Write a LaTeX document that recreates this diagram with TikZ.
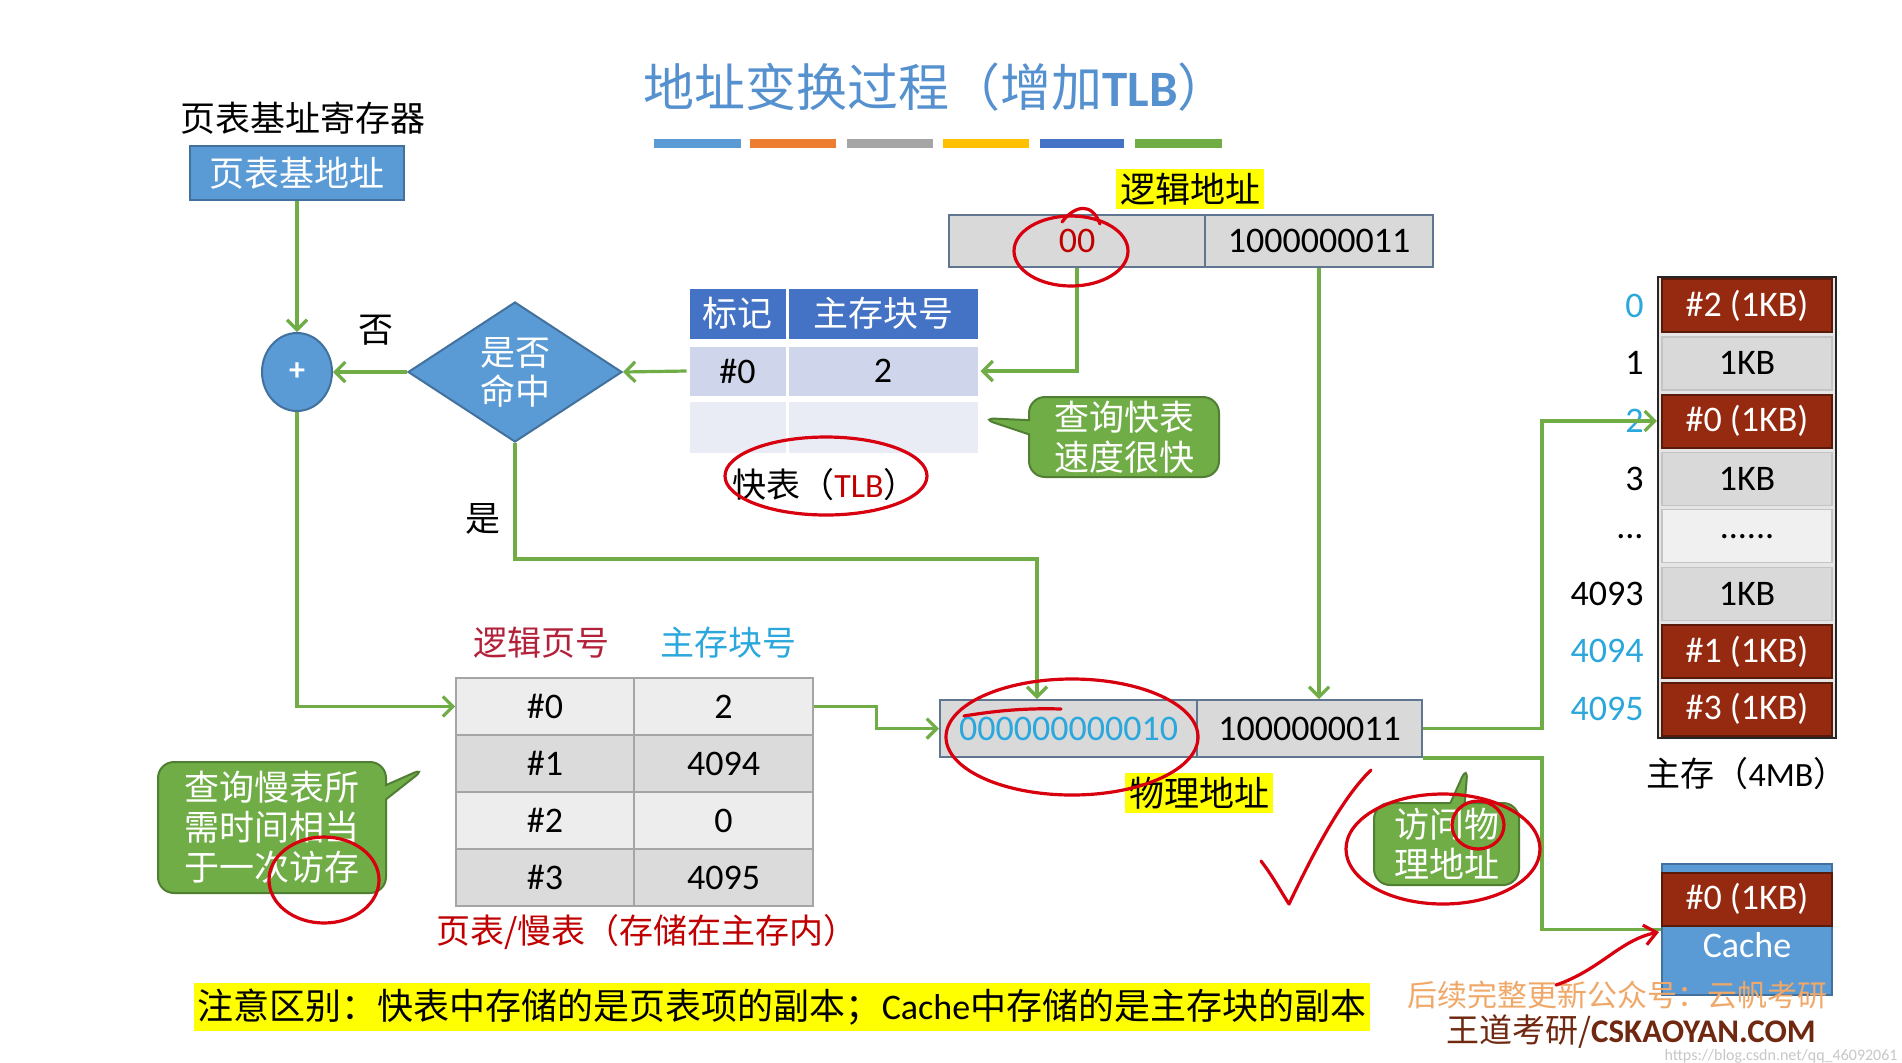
\documentclass[tikz,border=0pt]{standalone}
\usepackage{fontspec}
\setmainfont{Noto Sans CJK SC}
\newfontfamily\lat{Carlito}
\usetikzlibrary{arrows.meta,shapes.geometric,shapes.callouts,calc}
\newcommand\myfs[2]{\fontsize{#1}{#2}\selectfont}
\definecolor{titleblue}{HTML}{5590CF}
\definecolor{bfill}{HTML}{5B9BD5}
\definecolor{bdraw}{HTML}{41719C}
\definecolor{gline}{HTML}{70AD47}
\definecolor{gdraw}{HTML}{507E32}
\definecolor{hdr}{HTML}{4472C4}
\definecolor{tlbA}{HTML}{CFD5EA}
\definecolor{tlbB}{HTML}{E9EBF5}
\definecolor{ptA}{HTML}{EDEDED}
\definecolor{ptB}{HTML}{DBDBDB}
\definecolor{ptline}{HTML}{A5A5A5}
\definecolor{addrfill}{HTML}{D9D9D9}
\definecolor{addrdraw}{HTML}{5F7590}
\definecolor{graydraw}{HTML}{C4C4C4}
\definecolor{blk}{HTML}{952A10}
\definecolor{blkd}{HTML}{5A1A0A}
\definecolor{cyantxt}{HTML}{2AA7DC}
\definecolor{redtxt}{HTML}{C00000}
\definecolor{crimson}{HTML}{B3203A}
\definecolor{inkred}{HTML}{D8000F}
\definecolor{hl}{HTML}{FFFF00}
\definecolor{wmA}{HTML}{F0A868}
\definecolor{wmB}{HTML}{702810}
\definecolor{barA}{HTML}{5B9BD5}
\definecolor{barB}{HTML}{ED7D31}
\definecolor{barC}{HTML}{A5A5A5}
\definecolor{barD}{HTML}{FFC000}
\definecolor{barE}{HTML}{4472C4}
\definecolor{barF}{HTML}{70AD47}
\tikzset{
  gl/.style={draw=gline, line width=1.6pt},
  arr/.style={gl, -{Straight Barb[length=5pt,width=10pt]}},
  lbl/.style={inner sep=0pt, font=\myfs{17.5}{20}},
  bluebox/.style={rectangle, fill=bfill, draw=bdraw, line width=1pt, text=white, inner sep=0pt},
  tcell/.style={rectangle, draw=white, line width=1.5pt, inner sep=0pt, font=\lat\myfs{18}{20}},
  pcell/.style={rectangle, draw=ptline, line width=0.8pt, inner sep=0pt, minimum height=28.5pt, font=\lat\myfs{18}{20}},
  addr/.style={rectangle, fill=addrfill, draw=addrdraw, line width=1pt, inner sep=0pt, font=\lat\myfs{18}{20}},
  mcell/.style={rectangle, inner sep=0pt, minimum width=85pt, minimum height=26.5pt, font=\lat\myfs{18}{20}},
  redblk/.style={mcell, fill=blk, draw=blkd, line width=1pt, text=white},
  grayblk/.style={mcell, fill=addrfill, draw=graydraw, line width=0.6pt},
  mlab/.style={anchor=east, inner sep=0pt, font=\lat\myfs{18}{20}},
  bubble/.style={rectangle callout, fill=gline, draw=gdraw, line width=1pt, rounded corners=8pt, text=white, align=center, inner sep=0pt, font=\myfs{17.5}{20}},
  ink/.style={draw=inkred, line width=1.6pt, line cap=round, line join=round},
  hlbox/.style={fill=hl, inner sep=2pt, font=\myfs{17.5}{20}},
}
\begin{document}
\begin{tikzpicture}[x=0.5pt,y=-0.5pt]
\useasboundingbox[fill=white] (0,0) rectangle (1902,1062);

% title
\node[inner sep=0pt, text=titleblue, font=\myfs{25.5}{28}] (title) at (936,87) {地址变换过程（增加{\lat\bfseries TLB}）};
\fill[barA] (654,139) rectangle (741,148);
\fill[barB] (750,139) rectangle (836,148);
\fill[barC] (847,139) rectangle (933,148);
\fill[barD] (943,139) rectangle (1029,148);
\fill[barE] (1040,139) rectangle (1124,148);
\fill[barF] (1135,139) rectangle (1222,148);

% page table base register
\node[lbl] (regLbl) at (303,118) {页表基址寄存器};
\node[bluebox, minimum width=107pt, minimum height=27pt, font=\myfs{17.5}{20}] (base) at (297,173) {页表基地址};
\node[ellipse, fill=bfill, draw=bdraw, line width=1pt, minimum width=35pt, minimum height=39pt, inner sep=0pt, text=white, font=\lat\bfseries\myfs{16}{18}] (plus) at (297,372) {+};
\node[diamond, fill=bfill, draw=bdraw, line width=1pt, minimum width=107pt, minimum height=70pt, inner sep=0pt, text=white, align=center, font=\myfs{17.5}{19.5}] (hit) at (515,372) {是否\\命中};
\node[lbl] (noLbl) at (376,330) {否};
\node[lbl] (yesLbl) at (483,519) {是};

% TLB
\node[tcell, fill=hdr, text=white, minimum width=49.5pt, minimum height=26.5pt, font=\myfs{17.5}{20}] (tlbH1) at (737.5,313.5) {标记};
\node[tcell, fill=hdr, text=white, minimum width=96pt, minimum height=26.5pt, font=\myfs{17.5}{20}] (tlbH2) at (883,313.5) {主存块号};
\node[tcell, fill=tlbA, minimum width=49.5pt, minimum height=26pt] (tlbR1a) at (737.5,371) {\#0};
\node[tcell, fill=tlbA, minimum width=96pt, minimum height=26pt] (tlbR1b) at (883,371) {2};
\node[tcell, fill=tlbB, minimum width=49.5pt, minimum height=27pt] (tlbR2a) at (737.5,427) {};
\node[tcell, fill=tlbB, minimum width=96pt, minimum height=27pt] (tlbR2b) at (883,427) {};
\node[inner sep=0pt, font=\myfs{17}{20}] (tlbLbl) at (825,485) {快表（{\lat\color{redtxt}TLB}）};

% logical address
\node[hlbox] (laddrLbl) at (1190,189) {逻辑地址};
\node[addr, minimum width=128pt, minimum height=26pt, text=redtxt] (laddrL) at (1077,241) {00};
\node[addr, minimum width=114pt, minimum height=26pt] (laddrR) at (1319,241) {1000000011};

% bubble fast
\node[bubble, minimum width=95pt, minimum height=40pt, callout absolute pointer={(980,418)}] (bub1) at (1124,437) {查询快表\\速度很快};

% page table
\node[inner sep=0pt, text=crimson, font=\myfs{17}{20}] (ptH1) at (541,643) {逻辑页号};
\node[inner sep=0pt, text=cyantxt, font=\myfs{17}{20}] (ptH2) at (728,643) {主存块号};
\node[pcell, fill=ptA, minimum width=89pt] (pt0a) at (545,706.5) {\#0};
\node[pcell, fill=ptA, minimum width=89.5pt] (pt0b) at (723.5,706.5) {2};
\node[pcell, fill=ptB, minimum width=89pt] (pt1a) at (545,763.5) {\#1};
\node[pcell, fill=ptB, minimum width=89.5pt] (pt1b) at (723.5,763.5) {4094};
\node[pcell, fill=ptA, minimum width=89pt] (pt2a) at (545,820.5) {\#2};
\node[pcell, fill=ptA, minimum width=89.5pt] (pt2b) at (723.5,820.5) {0};
\node[pcell, fill=ptB, minimum width=89pt] (pt3a) at (545,877.5) {\#3};
\node[pcell, fill=ptB, minimum width=89.5pt] (pt3b) at (723.5,877.5) {4095};
\node[inner sep=0pt, text=redtxt, font=\myfs{17}{20}] (ptLbl) at (647,932) {页表/慢表（存储在主存内）};

% bubble slow
\node[bubble, minimum width=114pt, minimum height=65.5pt, callout absolute pointer={(427,767)}] (bub2) at (272,827.5) {查询慢表所\\需时间相当\\于一次访存};

% physical address
\node[addr, minimum width=128.5pt, minimum height=28.5pt, text=cyantxt] (paddrL) at (1068.5,728.5) {000000000010};
\node[addr, minimum width=112.5pt, minimum height=28.5pt] (paddrR) at (1309.5,728.5) {1000000011};
\node[hlbox] (paddrLbl) at (1199,793) {物理地址};

% bubble access
\node[bubble, minimum width=72.5pt, minimum height=41pt, callout absolute pointer={(1468,764)}] (bub3) at (1446.5,844) {访问物\\理地址};

% main memory
\node[rectangle, draw=black!85, fill=black!10, line width=1.2pt, minimum width=89pt, minimum height=230.5pt, inner sep=0pt] (memFrame) at (1747,507.5) {};
\node[redblk] (m0) at (1747,305.8) {\#2 (1KB)};
\node[grayblk] (m1) at (1747,363.4) {1KB};
\node[redblk] (m2) at (1747,421) {\#0 (1KB)};
\node[grayblk] (m3) at (1747,478.6) {1KB};
\node[grayblk, fill=black!6] (m4) at (1747,536.2) {......};
\node[grayblk] (m5) at (1747,593.8) {1KB};
\node[redblk] (m6) at (1747,651.4) {\#1 (1KB)};
\node[redblk] (m7) at (1747,709) {\#3 (1KB)};
\node[mlab, text=cyantxt] (l0) at (1644,305.8) {0};
\node[mlab] (l1) at (1644,363.4) {1};
\node[mlab, text=cyantxt] (l2) at (1644,421) {2};
\node[mlab] (l3) at (1644,478.6) {3};
\node[mlab] (l4) at (1644,536.2) {...};
\node[mlab] (l5) at (1644,593.8) {4093};
\node[mlab, text=cyantxt] (l6) at (1644,651.4) {4094};
\node[mlab, text=cyantxt] (l7) at (1644,709) {4095};
\node[inner sep=0pt, font=\myfs{17}{20}] (memLbl) at (1747,774) {主存（{\lat 4MB}）};

% cache
\node[bluebox, minimum width=85pt, minimum height=65.5pt] (cacheBox) at (1747,929.5) {};
\node[inner sep=0pt, text=white, font=\lat\myfs{18}{20}] (cacheTxt) at (1747,945) {Cache};
\node[redblk] (cacheBlk) at (1747,899) {\#0 (1KB)};

% connectors
\coordinate (yesC) at (1037,559);
\coordinate (busX) at (1542,0);
\draw[arr] (base.south) -- (plus.north);
\draw[arr] (tlbR1a.west) -- (hit.east);
\draw[arr] (hit.west) -- (plus.east);
\draw[arr] (laddrL.south) |- (tlbR1b.east);
\draw[arr] (plus.south) |- (pt0a.west);
\draw[arr] (hit.south) |- (yesC) -- (yesC |- paddrL.north);
\draw[arr] (laddrR.south) -- (laddrR.south |- paddrR.north);
\draw[arr] (pt0b.east) -- ++(63,0) |- (paddrL.west);
\draw[arr] (paddrR.east) -- (paddrR.east -| busX) |- (memFrame.west |- m2.west);
\draw[gl] (paddrR.south east) -- (paddrR.south east -| busX) |- (cacheBox.west);

% note and watermarks
\node[fill=hl, inner xsep=2pt, inner ysep=3pt, font=\myfs{18}{20}] (note) at (782,1007) {注意区别：快表中存储的是页表项的副本；{\lat Cache}中存储的是主存块的副本};
\node[inner sep=0pt, text=wmA, font=\myfs{15}{17}] (wm1) at (1617,995) {后续完整更新公众号：云帆考研};
\node[inner sep=0pt, text=wmB, font=\myfs{16.5}{18}] (wm2) at (1631,1032) {王道考研/{\lat\bfseries CSKAOYAN.COM}};
\node[anchor=east, inner sep=0pt, text=black!22, font=\lat\myfs{8}{9}] (wm3) at (1898,1056) {https://blog.csdn.net/qq\_46092061};

% red hand annotations
\draw[ink] (1071,251) ellipse [x radius=28.5pt, y radius=17.5pt];
\draw[ink] (1062,222) .. controls (1075,205) and (1092,202) .. (1100,224);
\draw[ink] (826,476) ellipse [x radius=50.5pt, y radius=19.5pt];
\draw[ink] (324,880) ellipse [x radius=27.5pt, y radius=21.5pt];
\draw[ink] (1072,737) ellipse [x radius=63pt, y radius=29pt];
\draw[ink] (964,716) .. controls (1000,710) and (1030,708) .. (1061,709);
\draw[ink] (1261,861) .. controls (1272,875) and (1280,890) .. (1289,904) .. controls (1310,860) and (1340,800) .. (1371,770);
\draw[ink] (1443,849) ellipse [x radius=48.5pt, y radius=27.5pt];
\draw[ink] (1478,825) ellipse [x radius=13pt, y radius=12pt];
\draw[ink, -{Straight Barb[length=6pt,width=10pt]}] (1556,985) .. controls (1600,970) and (1620,940) .. (1659,932);
\end{tikzpicture}
\end{document}
